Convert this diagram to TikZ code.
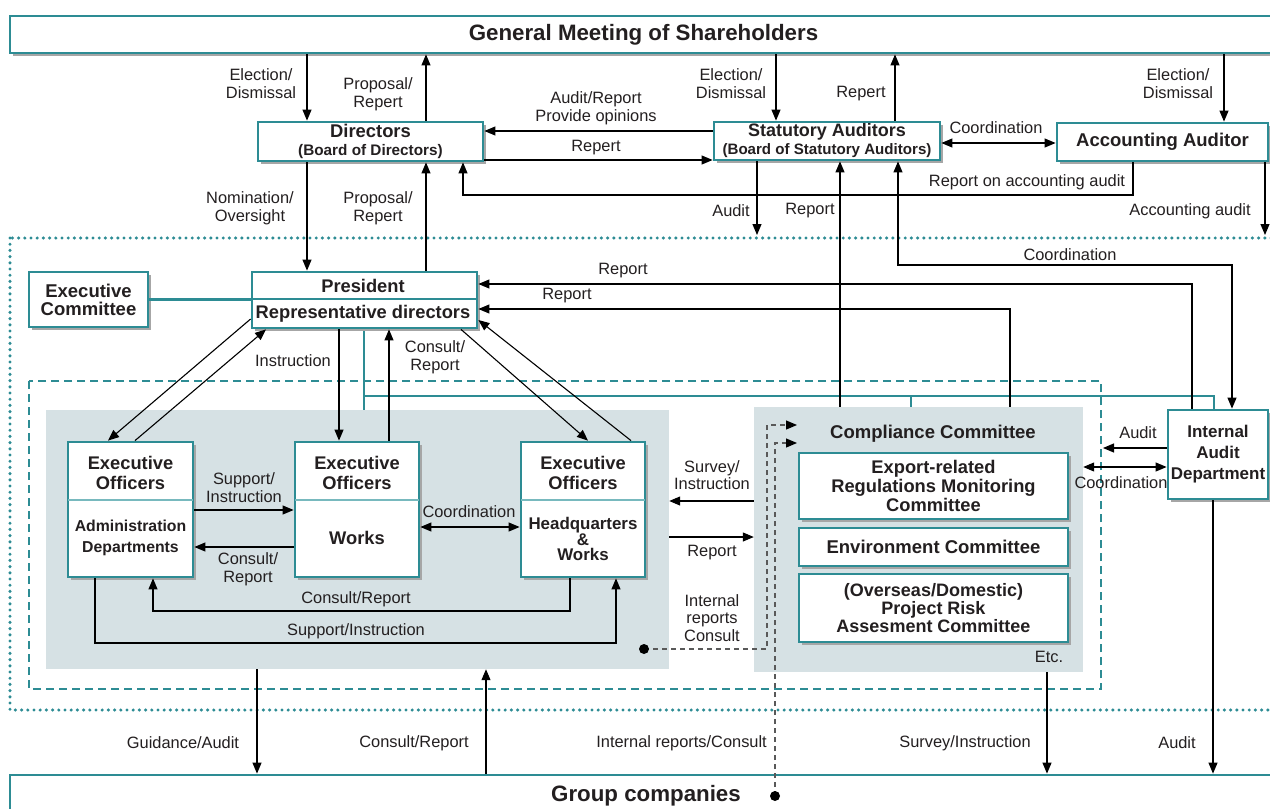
\documentclass[tikz,border=0pt]{standalone}
\usepackage{fontspec}
\setmainfont{Liberation Sans}
\usetikzlibrary{arrows.meta,shadows}
\definecolor{tealc}{RGB}{45,140,148}
\definecolor{regc}{RGB}{214,225,228}
\definecolor{divc}{RGB}{120,185,190}
\definecolor{txtc}{RGB}{35,31,32}
\begin{document}
\begin{tikzpicture}[x=1pt,y=-1pt,
  box/.style={draw=tealc, line width=2.8pt, fill=white, inner sep=0pt, align=center, text=txtc,
    drop shadow={shadow xshift=2.5pt, shadow yshift=-2.5pt, fill=black!35, opacity=1}},
  region/.style={fill=regc, draw=none, inner sep=0pt},
  lab/.style={font=\fontsize{16.4}{18}\selectfont, align=center, inner sep=0pt, text=txtc},
  ttl/.style={font=\bfseries\fontsize{18.3}{20}\selectfont, align=center, inner sep=0pt, text=txtc},
  tln/.style={draw=tealc, line width=2.8pt},
  ln/.style={draw=black, line width=1.1pt},
  arr/.style={ln, -{Triangle[length=11pt,width=9pt]}},
  darr/.style={ln, {Triangle[length=11pt,width=9pt]}-{Triangle[length=11pt,width=9pt]}},
  gdash/.style={draw=black!65, line width=1.2pt, dash pattern=on 5pt off 4pt},
  bdot/.style={circle, fill=black, draw=none, inner sep=0pt, minimum size=10pt},
]
\useasboundingbox (0,0) rectangle (1270,809);
\clip (0,0) rectangle (1270,809);
\fill[white] (0,0) rectangle (1270,809);

% shaded regions
\node[region, minimum width=623pt, minimum height=259pt] (lreg) at (357.5,539.5) {};
\node[region, minimum width=329pt, minimum height=265pt] (creg) at (918.5,539.5) {};

% frames
\draw[tealc, line width=3.4pt, line cap=round, dash pattern=on 0pt off 6.2pt] (10,238) rectangle (1300,710);
\draw[tealc, line width=1.6pt, dash pattern=on 8pt off 5pt] (29,381) rectangle (1101,689);

% teal structural lines
\coordinate (tj) at (364,396);
\coordinate (tj2) at (911,396);
\coordinate (tj3) at (1214,396);

% boxes
\node[box, minimum width=1267pt, minimum height=37pt, font=\bfseries\fontsize{22.3}{24}\selectfont] (gm) at (643.5,34.5) {General Meeting of Shareholders};
\node[box, minimum width=1272pt, minimum height=42pt, font=\bfseries\fontsize{22.3}{24}\selectfont] (grp) at (646,796) {Group companies};
\node[box, minimum width=225pt, minimum height=39pt, font=\bfseries\fontsize{15.3}{18}\selectfont] (dir) at (370.5,141.5) {{\fontsize{18.4}{18}\selectfont Directors}\\(Board of Directors)};
\node[box, minimum width=226pt, minimum height=38pt, font=\bfseries\fontsize{15.1}{18}\selectfont] (sa) at (827,141) {{\fontsize{18}{18}\selectfont Statutory Auditors}\\(Board of Statutory Auditors)};
\node[box, minimum width=211pt, minimum height=38pt, font=\bfseries\fontsize{18.5}{20}\selectfont] (aa) at (1162.5,142) {Accounting Auditor};
\node[box, minimum width=119pt, minimum height=55pt, font=\bfseries\fontsize{18.5}{18}\selectfont] (ec) at (88.5,299.5) {Executive\\Committee};

\draw[tln] (ec.east) -- (ec.east -| 252,0);
\draw[tln] (364,328) -- (tj) -- (364,0 |- lreg.north);
\draw[tln] (tj) -- (tj3) -- (1214,410);
\draw[tln] (tj2) -- (911,0 |- creg.north);

\node[box, minimum width=225pt, minimum height=56pt] (pres) at (364.5,300) {};
\draw[tln] (pres.west |- 0,299) -- (pres.east |- 0,299);
\node[ttl] (presT) at (363,286) {President};
\node[ttl] (repT) at (363,313.5) {Representative directors};

% executive officer boxes
\node[box, minimum width=125pt, minimum height=135pt] (adm) at (130.5,509.5) {};
\node[box, minimum width=124pt, minimum height=135pt] (wrk) at (357,509.5) {};
\node[box, minimum width=124pt, minimum height=135pt] (hq) at (583,509.5) {};
\draw[divc, line width=1.5pt, shorten >=1.4pt, shorten <=1.4pt] (adm.west |- 0,500) -- (adm.east |- 0,500);
\draw[divc, line width=1.5pt, shorten >=1.4pt, shorten <=1.4pt] (wrk.west |- 0,500) -- (wrk.east |- 0,500);
\draw[divc, line width=1.5pt, shorten >=1.4pt, shorten <=1.4pt] (hq.west |- 0,500) -- (hq.east |- 0,500);
\node[ttl] (admT) at (130.5,473) {Executive\\Officers};
\node[ttl, font=\bfseries\fontsize{15.8}{21}\selectfont] (admB) at (130.5,537.5) {Administration\\Departments};
\node[ttl] (wrkT) at (357,473) {Executive\\Officers};
\node[ttl] (wrkB) at (357,538) {Works};
\node[ttl] (hqT) at (583,473) {Executive\\Officers};
\node[ttl, font=\bfseries\fontsize{16.9}{15.5}\selectfont] (hqB) at (583,539) {Headquarters\\\&\\Works};

% compliance
\node[ttl, font=\bfseries\fontsize{18.5}{20}\selectfont] (ccT) at (933,434) {Compliance Committee};
\node[box, minimum width=269pt, minimum height=66pt, font=\bfseries\fontsize{18.3}{19}\selectfont] (exp) at (933.5,486) {Export-related\\Regulations Monitoring\\Committee};
\node[box, minimum width=269pt, minimum height=38pt, font=\bfseries\fontsize{18.5}{19}\selectfont] (env) at (933.5,547) {Environment Committee};
\node[box, minimum width=269pt, minimum height=68pt, font=\bfseries\fontsize{18}{18}\selectfont] (prj) at (933.5,608) {(Overseas/Domestic)\\Project Risk\\Assesment Committee};
\node[lab] (etc) at (1049,657) {Etc.};

% internal audit
\node[box, minimum width=100pt, minimum height=89pt, font=\bfseries\fontsize{17}{21}\selectfont] (ia) at (1218,454.5) {Internal\\Audit\\Department};

% ---- connectors: top level
\draw[arr] (307,0 |- gm.south) -- (307,0 |- dir.north);
\node[lab] (l1) at (261,83.5) {Election/\\Dismissal};
\draw[arr] (426,0 |- dir.north) -- (426,0 |- gm.south);
\node[lab] (l2) at (378,94.5) {Proposal/\\Repert};
\draw[arr] (776,0 |- gm.south) -- (776,0 |- sa.north);
\node[lab] (l3) at (731,83.5) {Election/\\Dismissal};
\draw[arr] (895,0 |- sa.north) -- (895,0 |- gm.south);
\node[lab] (l4) at (861,94) {Repert};
\draw[arr] (1224,0 |- gm.south) -- (1224,0 |- aa.north);
\node[lab] (l5) at (1178,83.5) {Election/\\Dismissal};
\draw[arr] (sa.west |- 0,131) -- (dir.east |- 0,131);
\node[lab] (l6) at (596,108) {Audit/Report\\Provide opinions};
\draw[arr] (dir.east |- 0,160) -- (sa.west |- 0,160);
\node[lab] (l7) at (596,148) {Repert};
\draw[darr] (sa.east |- 0,143) -- (aa.west |- 0,143);
\node[lab] (l8) at (996,128) {Coordination};
\draw[arr] (1133,0 |- aa.south) -- (1133,195) -- (463,195) -- (463,0 |- dir.south);
\node[lab] (l9) at (1027,182) {Report on accounting audit};
\coordinate (auEnd) at (757,235);
\draw[arr] (757,0 |- sa.south) -- (auEnd);
\node[lab] (l10) at (731,211) {Audit};
\draw[arr] (840,0 |- creg.north) -- (840,0 |- sa.south);
\node[lab] (l11) at (810,211) {Report};
\draw[darr] (898,0 |- sa.south) -- (898,265) -- (1232,265) -- (1232,0 |- ia.north);
\node[lab] (l12) at (1070,255) {Coordination};
\coordinate (acEnd) at (1265,235);
\draw[arr] (1265,0 |- aa.south) -- (acEnd);
\node[lab] (l13) at (1190,211) {Accounting audit};

% directors - president
\draw[arr] (307,0 |- dir.south) -- (307,0 |- pres.north);
\node[lab] (l14) at (250,208.5) {Nomination/\\Oversight};
\draw[arr] (426,0 |- pres.north) -- (426,0 |- dir.south);
\node[lab] (l15) at (378,208.5) {Proposal/\\Repert};
\draw[arr] (1192,0 |- ia.north) -- (1192,284) -- (pres.east |- 0,284);
\node[lab] (l16) at (623,271) {Report};
\draw[arr] (1010,0 |- creg.north) -- (1010,309) -- (pres.east |- 0,309);
\node[lab] (l17) at (567,296) {Report};

% president - executive officers
\draw[arr] (pres.west |- 0,319) -- (108,0 |- adm.north);
\draw[arr] (135,0 |- adm.north) -- (266,0 |- pres.south);
\node[lab] (l18) at (293,361) {Instruction};
\draw[arr] (339,0 |- pres.south) -- (339,0 |- wrk.north);
\draw[arr] (389,0 |- wrk.north) -- (389,0 |- pres.south);
\node[lab] (l19) at (435,357.5) {Consult/\\Report};
\draw[arr] (461,0 |- pres.south) -- (588,0 |- hq.north);
\draw[arr] (631,0 |- hq.north) -- (pres.east |- 0,320);

% between executive officers
\draw[arr] (adm.east |- 0,510) -- (wrk.west |- 0,510);
\node[lab] (l20) at (244,487.5) {Support/\\Instruction};
\draw[arr] (wrk.west |- 0,547) -- (adm.east |- 0,547);
\node[lab] (l21) at (248,569) {Consult/\\Report};
\draw[darr] (wrk.east |- 0,527) -- (hq.west |- 0,527);
\node[lab] (l22) at (469,512) {Coordination};
\draw[arr] (570,0 |- hq.south) -- (570,611) -- (153,611) -- (153,0 |- adm.south);
\node[lab] (l23) at (356,599) {Consult/Report};
\draw[arr] (95,0 |- adm.south) -- (95,643) -- (616,643) -- (616,0 |- hq.south);
\node[lab] (l24) at (356,631) {Support/Instruction};

% executive area - compliance
\draw[arr] (creg.west |- 0,501) -- (lreg.east |- 0,501);
\node[lab, font=\fontsize{16.4}{16.7}\selectfont] (l25) at (712,475) {Survey/\\Instruction};
\draw[arr] (lreg.east |- 0,537) -- (creg.west |- 0,537);
\node[lab] (l26) at (712,553) {Report};
\node[lab, font=\fontsize{16.4}{17.5}\selectfont] (l27) at (712,618) {Internal\\reports\\Consult};

% dashed internal reports
\coordinate (ds1) at (644,649);
\coordinate (ds2) at (775,796);
\coordinate (dt1) at (797,425);
\coordinate (dt2) at (797,443);
\draw[gdash, -{Triangle[length=11pt,width=9pt,color=black]}] (ds1) -- (767,649) -- (767,425) -- (dt1);
\draw[gdash, -{Triangle[length=11pt,width=9pt,color=black]}] (ds2) -- (775,443) -- (dt2);
\node[bdot] (dot1) at (ds1) {};
\node[bdot] (dot2) at (ds2) {};

% internal audit
\coordinate (iaEnd) at (1103,448);
\draw[arr] (ia.west |- 0,448) -- (iaEnd);
\node[lab] (l28) at (1138,433) {Audit};
\draw[darr] (creg.east |- 0,467) -- (ia.west |- 0,467);
\node[lab] (l29) at (1121,483) {Coordination};

% to group companies
\draw[arr] (1213,0 |- ia.south) -- (1213,0 |- grp.north);
\node[lab] (l30) at (1177,743) {Audit};
\draw[arr] (257,0 |- lreg.south) -- (257,0 |- grp.north);
\node[lab] (l31) at (183,743) {Guidance/Audit};
\draw[arr] (486,0 |- grp.north) -- (486,0 |- lreg.south);
\node[lab] (l32) at (414,743) {Consult/Report};
\node[lab, anchor=east] (l33) at (767,743) {Internal reports/Consult};
\draw[arr] (1047,0 |- creg.south) -- (1047,0 |- grp.north);
\node[lab] (l34) at (965,743) {Survey/Instruction};
\end{tikzpicture}
\end{document}
